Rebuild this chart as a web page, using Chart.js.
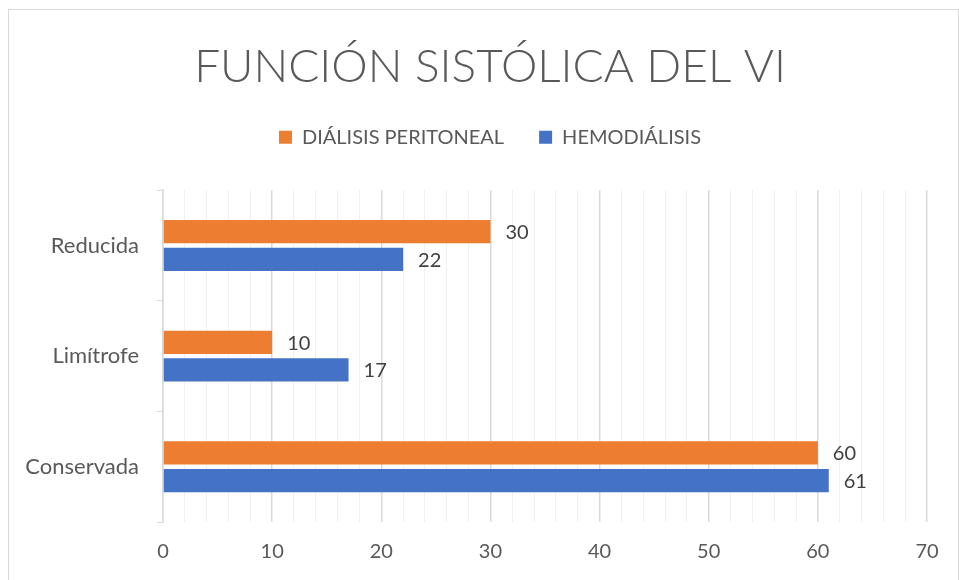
<!DOCTYPE html>
<html>
<head>
<meta charset="utf-8">
<script src="https://cdn.jsdelivr.net/npm/chart.js@4.4.1/dist/chart.umd.min.js"></script>
<style>
    html, body { margin: 0; padding: 0; background: #fff; }
    #frame {
        position: absolute; left: 8px; top: 9px; width: 949px; height: 580px;
        border: 1px solid #d9d9d9; border-bottom: none;
    }
    #wrap { position: absolute; left: 0; top: 0; width: 959px; height: 580px; }
</style>
</head>
<body>
<div id="frame"></div>
<div id="wrap"><canvas id="sistolicaChart"></canvas></div>
<script>
// Función sistólica del VI

const categories = ['Reducida', 'Limítrofe', 'Conservada'];
const seriesNames = ['DIÁLISIS PERITONEAL', 'HEMODIÁLISIS'];
const dialisisPeritoneal = [30, 10, 60];
const hemodialisis = [22, 17, 61];

const FONT = 'Lato, "Open Sans", sans-serif';

// numbers at the end of every bar
const valueLabels = {
    id: 'valueLabels',
    afterDatasetsDraw(chart) {
        const ctx = chart.ctx;
        ctx.save();
        ctx.font = '20px ' + FONT;
        ctx.fillStyle = '#404040';
        ctx.textAlign = 'left';
        ctx.textBaseline = 'middle';
        chart.data.datasets.forEach((ds, i) => {
            chart.getDatasetMeta(i).data.forEach((bar, j) => {
                ctx.fillText(ds.data[j], bar.x + 15, bar.y + 1);
            });
        });
        ctx.restore();
    }
};

const ctx = document.getElementById('sistolicaChart');
new Chart(ctx.getContext('2d'), {
    type: 'bar',
    data: {
        labels: categories,
        datasets: [{
            label: seriesNames[0],
            data: dialisisPeritoneal,
            backgroundColor: '#ED7D31',
            xAxisID: 'x',
            yAxisID: 'y',
            barPercentage: 0.84,
            categoryPercentage: 0.5
        }, {
            label: seriesNames[1],
            data: hemodialisis,
            backgroundColor: '#4472C4',
            xAxisID: 'x',
            yAxisID: 'y',
            barPercentage: 0.84,
            categoryPercentage: 0.5
        }]
    },
    options: {
        indexAxis: 'y',
        responsive: true,
        maintainAspectRatio: false,
        animation: false,
        layout: { padding: { left: 21, right: 0, top: 0, bottom: 0 } },
        plugins: {
            title: {
                display: true,
                text: 'FUNCIÓN SISTÓLICA DEL VI',
                color: '#595959',
                font: { family: FONT, size: 46, weight: '300' },
                padding: { top: 40, bottom: -3 }
            },
            legend: {
                position: 'top',
                labels: {
                    color: '#595959',
                    font: { family: FONT, size: 20 },
                    boxWidth: 13,
                    boxHeight: 13,
                    padding: 35
                }
            },
            tooltip: { enabled: false }
        },
        scales: {
            x: {
                min: 0,
                max: 70,
                ticks: {
                    stepSize: 2,
                    autoSkip: false,
                    maxRotation: 0,
                    padding: 18,
                    color: '#595959',
                    font: { family: FONT, size: 20 },
                    callback: v => (v % 10 === 0 ? v : '')
                },
                grid: {
                    drawTicks: false,
                    color: c => (c.tick && c.tick.value % 10 === 0 ? '#d9d9d9' : '#f0f0f0'),
                    lineWidth: c => (c.tick && c.tick.value % 10 === 0 ? 1.5 : 1)
                },
                border: { display: false },
                afterFit: s => { s.height = 58; }
            },
            y: {
                ticks: {
                    padding: 18,
                    color: '#595959',
                    font: { family: FONT, size: 22 }
                },
                grid: {
                    drawOnChartArea: false,
                    tickLength: 6,
                    color: '#d9d9d9'
                },
                border: { color: '#d9d9d9', width: 1.5 },
                afterFit: s => { s.width = 142; }
            },
            // empty band between legend and plot
            spacerTop: {
                type: 'linear',
                axis: 'x',
                position: 'top',
                ticks: { display: false },
                grid: { display: false },
                border: { display: false },
                afterFit: s => { s.height = 33; }
            },
            // empty band right of the plot
            spacerRight: {
                type: 'linear',
                axis: 'y',
                position: 'right',
                ticks: { display: false },
                grid: { display: false },
                border: { display: false },
                afterFit: s => { s.width = 32; }
            }
        }
    },
    plugins: [valueLabels]
});
</script>
</body>
</html>
